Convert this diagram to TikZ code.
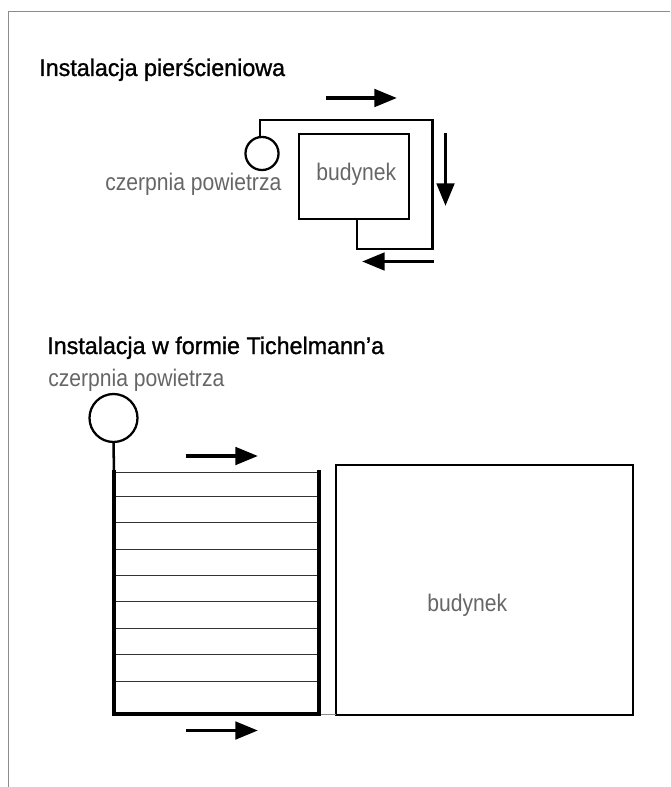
\documentclass[tikz,border=0pt]{standalone}
\usepackage{fontspec}
\setmainfont{Liberation Sans}
\newfontfamily\headfont[FakeStretch=0.97,FakeBold=1.1]{Liberation Sans}
\newfontfamily\capfont[FakeStretch=0.88]{Liberation Sans}
\usetikzlibrary{arrows.meta}
\definecolor{capgrey}{HTML}{666666}
\tikzset{
  x=0.75pt,y=-0.75pt,
  frameline/.style={draw=black!45,line width=0.8pt},
  pipe/.style={draw=black,line width=1.9pt,line join=miter},
  thickpipe/.style={draw=black,line width=2.3pt,line cap=rect},
  rung/.style={draw=black!80,line width=0.75pt},
  dirarrow/.style={draw=black,line width=2.9pt,-{Triangle[length=17pt,width=13pt]}},
  heading/.style={anchor=base west,inner sep=0pt,font=\headfont\fontsize{18pt}{20pt}\selectfont,text=black},
  caption/.style={anchor=base west,inner sep=0pt,font=\capfont\fontsize{18pt}{20pt}\selectfont,text=capgrey},
  housebox/.style={draw=black,rectangle,inner sep=0pt,outer sep=0pt},
  intake/.style={draw=black,circle,inner sep=0pt,outer sep=0pt,line width=1.7pt,fill=white},
}
\begin{document}
\begin{tikzpicture}
\useasboundingbox (0,0) rectangle (670,787);
% frame
\coordinate (fa) at (8.5,787);
\coordinate (fb) at (8.5,11.5);
\coordinate (fc) at (670,11.5);
\draw[frameline] (fa) -- (fb) -- (fc);
% headings
\node[heading] (t1) at (39,76) {Instalacja pierścieniowa};
\node[heading] (t2) at (47,354) {Instalacja w formie Tichelmann’a};
% upper diagram
\node[intake,minimum size=24.8pt] (airA) at (262,153.5) {};
\node[housebox,line width=1.9pt,minimum width=82.5pt,minimum height=63.75pt] (boxA) at (354,176.5) {};
\node[caption] (capA) at (105,191) {czerpnia powietrza};
\node[caption] (labA) at (316,181) {budynek};
\coordinate (r1) at (260,120);
\coordinate (r2) at (432.5,120);
\coordinate (r3) at (432.5,249);
\coordinate (r4) at (357,249);
\draw[pipe] (airA.north -| r1) -- (r1) -- (r2) -- (r3) -- (r4) -- (r4 |- boxA.south);
\coordinate (a1s) at (326,98);  \coordinate (a1e) at (397,98);
\coordinate (a2s) at (445.5,133); \coordinate (a2e) at (445.5,206);
\coordinate (a3s) at (434,261.5); \coordinate (a3e) at (362,261.5);
\draw[dirarrow] (a1s) -- (a1e);
\draw[dirarrow] (a2s) -- (a2e);
\draw[dirarrow] (a3s) -- (a3e);
% lower diagram
\node[caption] (capB) at (48,386) {czerpnia powietrza};
\node[intake,minimum size=36pt] (airB) at (113.5,418) {};
\node[housebox,line width=1.2pt,minimum width=222.75pt,minimum height=187.5pt] (boxB) at (484.5,590) {};
\node[caption] (labB) at (427,611) {budynek};
\coordinate (gTL) at (114,472);
\coordinate (gTR) at (319,472);
\coordinate (gBL) at (114,714);
\coordinate (gBR) at (319,714);
\foreach \yy in {472,496,522,549,575,601,628,654,681}{
  \draw[rung] (114,\yy) -- (319,\yy);
}
\draw[rung,draw=black!45] (gBR) -- (gBR -| boxB.west);
\draw[pipe] (airB.south) -- (gTL);
\draw[thickpipe] (gTL) -- (gBL);
\draw[thickpipe] (gTR) -- (gBR);
\draw[thickpipe] (gBL) -- (gBR);
\coordinate (a4s) at (186,456); \coordinate (a4e) at (258,456);
\coordinate (a5s) at (186,730.5); \coordinate (a5e) at (258,730.5);
\draw[dirarrow] (a4s) -- (a4e);
\draw[dirarrow] (a5s) -- (a5e);
\end{tikzpicture}
\end{document}
